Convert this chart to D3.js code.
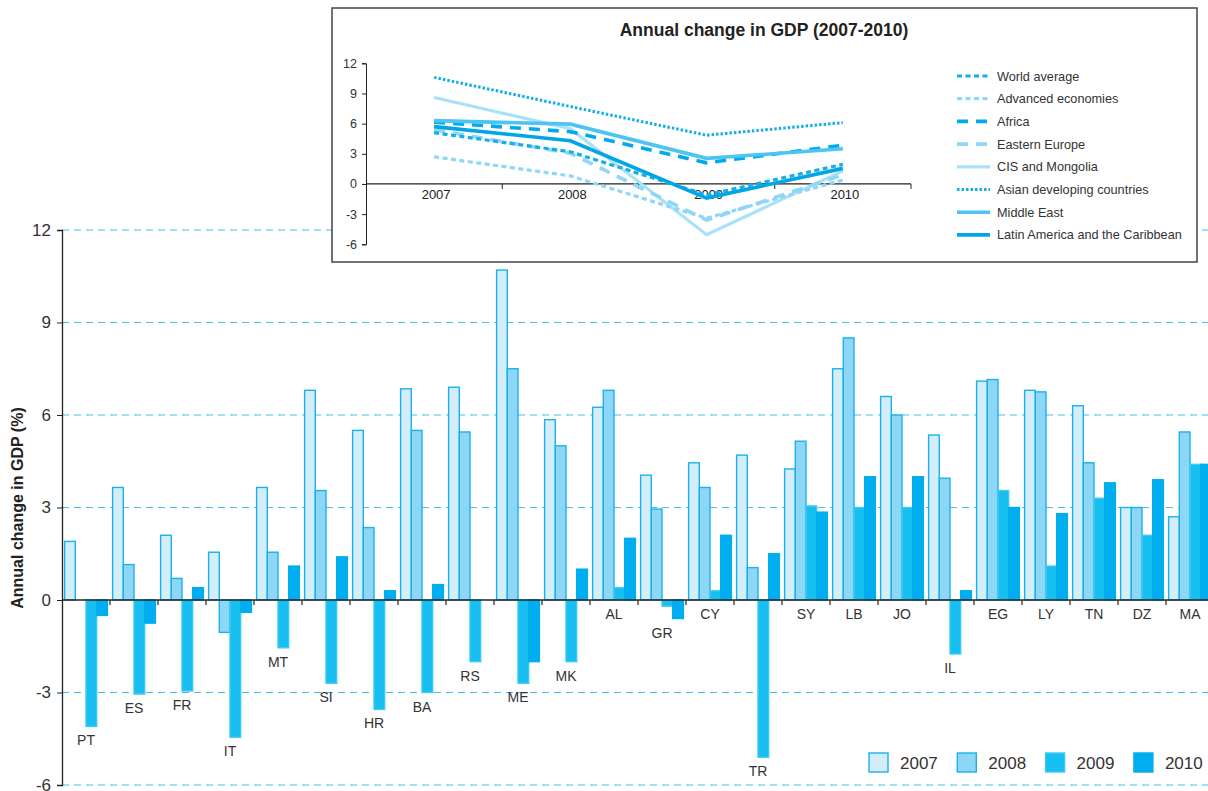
<!DOCTYPE html>
<html>
<head>
<meta charset="utf-8">
<script src="https://cdn.jsdelivr.net/npm/d3@7"></script>
<style>
  body { margin: 0; background: #fff; }
  svg { display: block; font-family: "Liberation Sans", Arial, sans-serif; }
  .grid line { stroke: #45bfee; stroke-width: 1.2; stroke-dasharray: 7,5; }
  .cat { font-size: 14px; fill: #333; text-anchor: middle; }
</style>
</head>
<body>
<script>
// main chart data
var countries = ['PT', 'ES', 'FR', 'IT', 'MT', 'SI', 'HR', 'BA', 'RS', 'ME', 'MK', 'AL',
  'GR', 'CY', 'TR', 'SY', 'LB', 'JO', 'IL', 'EG', 'LY', 'TN', 'DZ', 'MA'];
var years = ['2007', '2008', '2009', '2010'];
var gdp2007 = [1.9, 3.65, 2.1, 1.55, 3.65, 6.8, 5.5, 6.85, 6.9, 10.7, 5.85, 6.25,
  4.05, 4.45, 4.7, 4.25, 7.5, 6.6, 5.35, 7.1, 6.8, 6.3, 3.0, 2.7];
var gdp2008 = [0, 1.15, 0.7, -1.05, 1.55, 3.55, 2.35, 5.5, 5.45, 7.5, 5.0, 6.8,
  2.95, 3.65, 1.05, 5.15, 8.5, 6.0, 3.95, 7.15, 6.75, 4.45, 3.0, 5.45];
var gdp2009 = [-4.1, -3.05, -2.95, -4.45, -1.55, -2.7, -3.55, -3.0, -2.0, -2.7, -2.0, 0.4,
  -0.2, 0.3, -5.1, 3.05, 3.0, 3.0, -1.75, 3.55, 1.1, 3.3, 2.1, 4.4];
var gdp2010 = [-0.5, -0.75, 0.4, -0.4, 1.1, 1.4, 0.3, 0.5, 0, -2.0, 1.0, 2.0,
  -0.6, 2.1, 1.5, 2.85, 4.0, 4.0, 0.3, 3.0, 2.8, 3.8, 3.9, 4.4];
var yTicks = [-6, -3, 0, 3, 6, 9, 12];

// inset data
var insetYears = ['2007', '2008', '2009', '2010'];
var insetTicks = [-6, -3, 0, 3, 6, 9, 12];
var regionNames = ['World average', 'Advanced economies', 'Africa', 'Eastern Europe',
  'CIS and Mongolia', 'Asian developing countries', 'Middle East', 'Latin America and the Caribbean'];
var worldAvg = [5.1, 3.2, -1.1, 1.95];
var advanced = [2.7, 0.8, -3.4, 0.4];
var africa = [6.15, 5.2, 2.1, 3.85];
var easternEurope = [5.4, 3.05, -3.6, 0.9];
var cis = [8.6, 5.5, -5.05, 1.3];
var asianDev = [10.6, 7.7, 4.85, 6.1];
var middleEast = [6.3, 5.95, 2.55, 3.5];
var latinAmerica = [5.7, 4.3, -1.4, 1.55];

var W = 1208, H = 791;
var svg = d3.select('body').append('svg').attr('width', W).attr('height', H);

var series = [gdp2007, gdp2008, gdp2009, gdp2010];
var fills = ['#d4edfa', '#8dd6f5', '#16bff0', '#00aeef'];
var strokes = ['#19b3ea', '#19b3ea', '#3fc9f3', '#00aeef'];
var plain = function (d) { return String(d); }; // hyphen minus like the original

var y = d3.scaleLinear().domain([-6, 12]).range([785, 230]);
var x0 = d3.scaleBand().domain(countries).range([62, 62 + 48 * countries.length]);
var x1 = d3.scaleBand().domain(years).range([2.6, x0.bandwidth() - 2.6]);

// grid lines
svg.append('g').attr('class', 'grid').selectAll('line')
  .data(yTicks.filter(function (d) { return d !== 0; }))
  .enter().append('line')
  .attr('x1', 62).attr('x2', W)
  .attr('y1', function (d) { return y(d); }).attr('y2', function (d) { return y(d); });

// y axis
var yAxis = svg.append('g').attr('transform', 'translate(62,0)')
  .call(d3.axisLeft(y).tickValues(yTicks).tickFormat(plain).tickSize(5).tickPadding(6));
yAxis.select('.domain').attr('stroke', '#222').attr('stroke-width', 1.3);
yAxis.selectAll('.tick line').attr('stroke', '#222');
yAxis.selectAll('.tick text').attr('font-size', 17).attr('fill', '#333')
  .attr('font-family', '"Liberation Sans", Arial, sans-serif');

svg.append('text')
  .attr('transform', 'translate(23,508) rotate(-90)')
  .attr('text-anchor', 'middle')
  .attr('font-size', 16).attr('font-weight', 'bold').attr('fill', '#222')
  .text('Annual change in GDP (%)');

// bars
var rows = countries.map(function (c, i) {
  return { country: c, values: series.map(function (s) { return s[i]; }) };
});

var groups = svg.append('g').selectAll('g').data(rows).enter().append('g')
  .attr('transform', function (d) { return 'translate(' + x0(d.country) + ',0)'; });

groups.selectAll('rect').data(function (d) {
  return d.values.map(function (v, k) { return { year: years[k], k: k, v: v }; })
    .filter(function (e) { return e.v !== 0; });
}).enter().append('rect')
  .attr('x', function (d) { return x1(d.year); })
  .attr('width', x1.bandwidth())
  .attr('y', function (d) { return y(Math.max(0, d.v)); })
  .attr('height', function (d) { return Math.abs(y(d.v) - y(0)); })
  .attr('fill', function (d) { return fills[d.k]; })
  .attr('stroke', function (d) { return strokes[d.k]; })
  .attr('stroke-width', 1.4);

// x axis line and group ticks
svg.append('line').attr('x1', 62).attr('x2', W).attr('y1', y(0)).attr('y2', y(0))
  .attr('stroke', '#222').attr('stroke-width', 1.3);
svg.append('g').selectAll('line').data(countries.slice(1)).enter().append('line')
  .attr('x1', function (d) { return x0(d); }).attr('x2', function (d) { return x0(d); })
  .attr('y1', y(0)).attr('y2', y(0) + 5)
  .attr('stroke', '#222').attr('stroke-width', 1.2);

// country labels below the lowest bar
groups.append('text').attr('class', 'cat')
  .attr('x', x0.bandwidth() / 2)
  .attr('y', function (d) { return y(Math.min(0, d3.min(d.values))) + 19; })
  .text(function (d) { return d.country; });

// legend
var leg = svg.append('g').selectAll('g').data(years).enter().append('g')
  .attr('transform', function (d, i) { return 'translate(' + (869 + i * 88.3) + ',753)'; });
leg.append('rect').attr('width', 19).attr('height', 19)
  .attr('fill', function (d, i) { return fills[i]; })
  .attr('stroke', function (d, i) { return strokes[i]; }).attr('stroke-width', 1.4);
leg.append('text').attr('x', 31).attr('y', 16).attr('font-size', 17).attr('fill', '#333')
  .text(function (d) { return d; });

// inset chart
var inset = svg.append('g');
inset.append('rect').attr('x', 332).attr('y', 8).attr('width', 865).attr('height', 254)
  .attr('fill', '#fff').attr('stroke', '#444').attr('stroke-width', 1.5);
inset.append('text').attr('x', 764).attr('y', 36).attr('text-anchor', 'middle')
  .attr('font-size', 17.5).attr('font-weight', 'bold').attr('fill', '#222')
  .text('Annual change in GDP (2007-2010)');

var iy = d3.scaleLinear().domain([-6, 12]).range([244.3, 63.3]);
var ix = d3.scaleBand().domain(insetYears).range([366, 911]);

var iyAxis = inset.append('g').attr('transform', 'translate(366,0)')
  .call(d3.axisLeft(iy).tickValues(insetTicks).tickFormat(plain).tickSize(4).tickPadding(5));
iyAxis.selectAll('.domain, .tick line').attr('stroke', '#222');
iyAxis.selectAll('.tick text').attr('font-size', 12.5).attr('fill', '#333')
  .attr('font-family', '"Liberation Sans", Arial, sans-serif');

inset.append('line').attr('x1', 366).attr('x2', 911).attr('y1', iy(0)).attr('y2', iy(0))
  .attr('stroke', '#222').attr('stroke-width', 1.2);
inset.append('g').selectAll('line').data(insetYears).enter().append('line')
  .attr('x1', function (d) { return ix(d) + ix.bandwidth(); })
  .attr('x2', function (d) { return ix(d) + ix.bandwidth(); })
  .attr('y1', iy(0)).attr('y2', iy(0) + 5).attr('stroke', '#222');
inset.append('g').selectAll('text').data(insetYears).enter().append('text')
  .attr('x', function (d) { return ix(d) + ix.bandwidth() / 2 + 2; })
  .attr('y', iy(0) + 15).attr('text-anchor', 'middle')
  .attr('font-size', 13).attr('fill', '#222').text(function (d) { return d; });

var lineStyles = [
  { data: worldAvg, color: '#14aee8', width: 3.2, dash: '5,3.5' },
  { data: advanced, color: '#8fd7f6', width: 3.2, dash: '5,3.5' },
  { data: africa, color: '#00aaec', width: 3.6, dash: '11,8' },
  { data: easternEurope, color: '#8fd7f6', width: 3.6, dash: '11,8' },
  { data: cis, color: '#a9e1f8', width: 3.2, dash: null },
  { data: asianDev, color: '#14aee8', width: 3, dash: '2.5,2' },
  { data: middleEast, color: '#4dc5f2', width: 3.6, dash: null },
  { data: latinAmerica, color: '#00a6e6', width: 3.6, dash: null }
];
var drawOrder = [4, 1, 3, 0, 7, 2, 6, 5];

var line = d3.line()
  .x(function (d, i) { return ix(insetYears[i]) + ix.bandwidth() / 2; })
  .y(function (d) { return iy(d); });

inset.append('g').selectAll('path').data(drawOrder.map(function (k) { return lineStyles[k]; }))
  .enter().append('path')
  .attr('d', function (d) { return line(d.data); })
  .attr('fill', 'none')
  .attr('stroke', function (d) { return d.color; })
  .attr('stroke-width', function (d) { return d.width; })
  .attr('stroke-dasharray', function (d) { return d.dash; });

var ileg = inset.append('g').selectAll('g').data(regionNames).enter().append('g')
  .attr('transform', function (d, i) { return 'translate(957,' + (76 + i * 22.7) + ')'; });
ileg.append('line').attr('x1', 0).attr('x2', 33).attr('y1', 0).attr('y2', 0)
  .attr('stroke', function (d, i) { return lineStyles[i].color; })
  .attr('stroke-width', function (d, i) { return lineStyles[i].width; })
  .attr('stroke-dasharray', function (d, i) { return lineStyles[i].dash; });
ileg.append('text').attr('x', 40).attr('y', 4.5).attr('font-size', 12.7).attr('fill', '#333')
  .text(function (d) { return d; });
</script>
</body>
</html>
